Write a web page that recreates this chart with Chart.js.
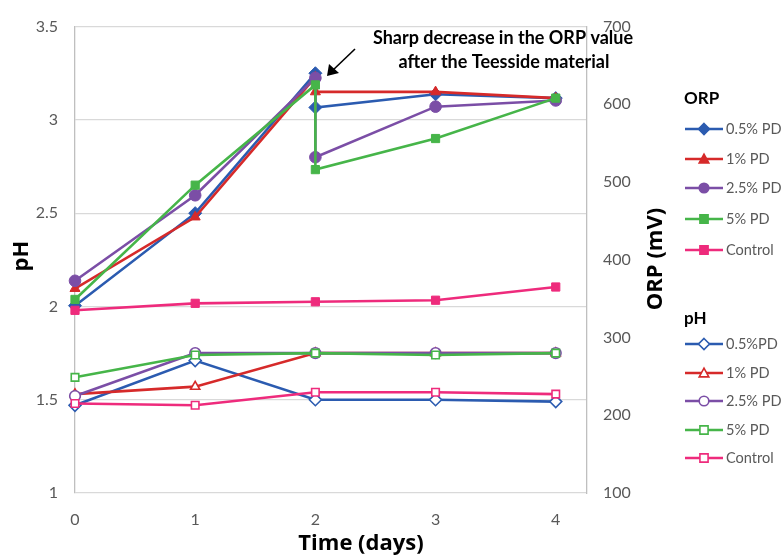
<!DOCTYPE html>
<html>
<head>
<meta charset="utf-8">
<script src="https://cdn.jsdelivr.net/npm/chart.js@4/dist/chart.umd.min.js"></script>
<style>
  html, body { margin: 0; padding: 0; background: #fff; }
  #wrap { position: relative; width: 783px; height: 559px; }
</style>
</head>
<body>
<div id="wrap"><canvas id="chart" width="783" height="559"></canvas></div>
<script>
// ORP readings (mV); day 2 has a reading before and after the material was added
const orpDays = [0, 1, 2, 2, 3, 4];
const orp05 = [341, 460, 640, 596, 613, 608];
const orp1 = [363, 455, 635, 616, 616, 608];
const orp25 = [373, 483, 634, 532, 597, 605];
const orp5 = [349, 496, 625, 516, 556, 608];
const ctrlDays = [0, 1, 2, 3, 4];
const orpCtrl = [335, 344, 346, 348, 365];

// pH readings
const phDays = [0, 1, 2, 3, 4];
const ph05 = [1.47, 1.71, 1.50, 1.50, 1.49];
const ph1 = [1.53, 1.57, 1.75, 1.75, 1.75];
const ph25 = [1.52, 1.75, 1.75, 1.75, 1.75];
const ph5 = [1.62, 1.74, 1.75, 1.74, 1.75];
const phCtrl = [1.48, 1.47, 1.54, 1.54, 1.53];

const seriesNames = ['0.5% PD', '1% PD', '2.5% PD', '5% PD', 'Control'];
const phNames = ['0.5%PD', '1% PD', '2.5% PD', '5% PD', 'Control'];
const dayTicks = [0, 1, 2, 3, 4];

const colors = ['#2b5bb0', '#d62a2a', '#7b4ea6', '#46b549', '#ee2b7c'];
const shapes = ['rectRot', 'triangle', 'circle', 'rect', 'rect'];
const FONT = 'Lato, "Open Sans", sans-serif';
const TITLE_FONT = '"Open Sans", Lato, sans-serif';

function pts(xs, ys) {
    return xs.map(function (x, i) { return { x: x, y: ys[i] }; });
}

function makeSet(label, data, i, axis, hollow, ord) {
    const big = shapes[i] === 'rectRot' ? 6.5 : 5.8;
    return {
        label: label,
        data: data,
        yAxisID: axis,
        borderColor: colors[i],
        backgroundColor: hollow ? '#ffffff' : colors[i],
        pointBackgroundColor: hollow ? '#ffffff' : colors[i],
        pointBorderColor: colors[i],
        pointBorderWidth: hollow ? 1.6 : 1,
        pointStyle: shapes[i],
        pointRadius: hollow ? big - 0.5 : big,
        borderWidth: 2.6,
        tension: 0,
        order: ord,
        clip: false
    };
}

const orpSets = [orp05, orp1, orp25, orp5];
const phSets = [ph05, ph1, ph25, ph5, phCtrl];
const datasets = [];
phSets.forEach(function (vals, i) {
    datasets.push(makeSet(phNames[i], pts(phDays, vals), i, 'y', true, 20 - i));
});
orpSets.forEach(function (vals, i) {
    datasets.push(makeSet(seriesNames[i], pts(orpDays, vals), i, 'y1', false, 10 - i));
});
datasets.push(makeSet('Control', pts(ctrlDays, orpCtrl), 4, 'y1', false, 6));

// marker for the hand-drawn legend
function marker(ctx, style, x, y, r, fill, stroke) {
    ctx.save();
    ctx.fillStyle = fill;
    ctx.strokeStyle = stroke;
    ctx.lineWidth = 1.6;
    ctx.beginPath();
    if (style === 'rectRot') {
        ctx.moveTo(x, y - r); ctx.lineTo(x + r, y); ctx.lineTo(x, y + r); ctx.lineTo(x - r, y);
        ctx.closePath();
    } else if (style === 'triangle') {
        ctx.moveTo(x, y - r); ctx.lineTo(x + r, y + r * 0.8); ctx.lineTo(x - r, y + r * 0.8);
        ctx.closePath();
    } else if (style === 'circle') {
        ctx.arc(x, y, r, 0, Math.PI * 2);
    } else {
        ctx.rect(x - r * 0.85, y - r * 0.85, r * 1.7, r * 1.7);
    }
    ctx.fill();
    ctx.stroke();
    ctx.restore();
}

const extras = {
    id: 'extras',
    afterDraw: function (chart) {
        const ctx = chart.ctx;
        ctx.save();
        ctx.fillStyle = '#000';
        ctx.textBaseline = 'middle';

        // axis titles
        ctx.font = 'bold 22px ' + TITLE_FONT;
        ctx.textAlign = 'center';
        ctx.fillText('Time (days)', 361, 544);
        ctx.save();
        ctx.translate(22, 256);
        ctx.rotate(-Math.PI / 2);
        ctx.fillText('pH', 0, 0);
        ctx.restore();
        ctx.save();
        ctx.translate(656, 259);
        ctx.rotate(-Math.PI / 2);
        ctx.fillText('ORP (mV)', 0, 0);
        ctx.restore();

        // note and arrow at the day-2 drop
        ctx.font = 'bold 18px ' + FONT;
        ctx.fillText('Sharp decrease in the ORP value', 503, 38);
        ctx.fillText('after the Teesside material', 504, 62);
        ctx.strokeStyle = '#000';
        ctx.lineWidth = 1.6;
        ctx.beginPath();
        ctx.moveTo(355, 49);
        ctx.lineTo(332, 71);
        ctx.stroke();
        ctx.beginPath();
        ctx.moveTo(327, 76);
        ctx.lineTo(329, 64);
        ctx.lineTo(339, 73);
        ctx.closePath();
        ctx.fillStyle = '#000';
        ctx.fill();

        // legend
        function group(title, ty, rows, hollow) {
            ctx.textAlign = 'left';
            ctx.fillStyle = '#000';
            ctx.font = 'bold 17px ' + FONT;
            ctx.fillText(title, 684, ty);
            rows.forEach(function (r) {
                ctx.strokeStyle = colors[r.i];
                ctx.lineWidth = 2.6;
                ctx.beginPath();
                ctx.moveTo(685, r.y);
                ctx.lineTo(723, r.y);
                ctx.stroke();
                const rad = shapes[r.i] === 'rectRot' ? 5.5 : 4.8;
                marker(ctx, shapes[r.i], 704, r.y, rad, hollow ? '#fff' : colors[r.i], colors[r.i]);
                ctx.fillStyle = '#595959';
                ctx.font = '16px ' + FONT;
                const w = ctx.measureText(r.name).width;
                ctx.fillText(r.name, 726, r.y, w * 0.91);
            });
        }
        const orpRows = [129, 159, 188, 219, 250].map(function (y, i) {
            return { y: y, i: i, name: seriesNames[i] };
        });
        const phRows = [344, 373, 401, 430, 458].map(function (y, i) {
            return { y: y, i: i, name: phNames[i] };
        });
        group('ORP', 99, orpRows, false);
        group('pH', 319, phRows, true);
        ctx.restore();
    }
};

new Chart(document.getElementById('chart'), {
    type: 'line',
    data: { datasets: datasets },
    options: {
        responsive: false,
        animation: false,
        layout: { padding: { top: 21, left: 0, right: 0, bottom: 0 } },
        plugins: {
            legend: { display: false },
            tooltip: { enabled: false }
        },
        scales: {
            x: {
                type: 'linear',
                min: 0,
                max: 4.26,
                afterFit: function (s) { s.height = 66; },
                afterBuildTicks: function (s) {
                    s.ticks = dayTicks.map(function (v) { return { value: v }; });
                },
                grid: { display: false, drawTicks: false },
                border: { display: false },
                ticks: {
                    padding: 17,
                    color: '#595959',
                    font: { family: FONT, size: 16 },
                    callback: function (v) { return String(v); }
                }
            },
            y: {
                position: 'left',
                min: 1,
                max: 3.5,
                afterFit: function (s) { s.width = 75; },
                grid: { color: '#d9d9d9', lineWidth: 1.3, drawTicks: false },
                border: { display: true, color: '#bfbfbf', width: 1.3 },
                ticks: {
                    stepSize: 0.5,
                    padding: 17,
                    color: '#595959',
                    font: { family: FONT, size: 16 },
                    callback: function (v) { return String(v); }
                }
            },
            y1: {
                position: 'right',
                min: 100,
                max: 700,
                afterFit: function (s) { s.width = 196; },
                grid: { display: false, drawTicks: false },
                border: { display: true, color: '#bfbfbf', width: 1.3 },
                ticks: {
                    stepSize: 100,
                    padding: 16,
                    color: '#595959',
                    font: { family: FONT, size: 16 },
                    callback: function (v) { return String(v); }
                }
            }
        }
    },
    plugins: [extras]
});
</script>
</body>
</html>
